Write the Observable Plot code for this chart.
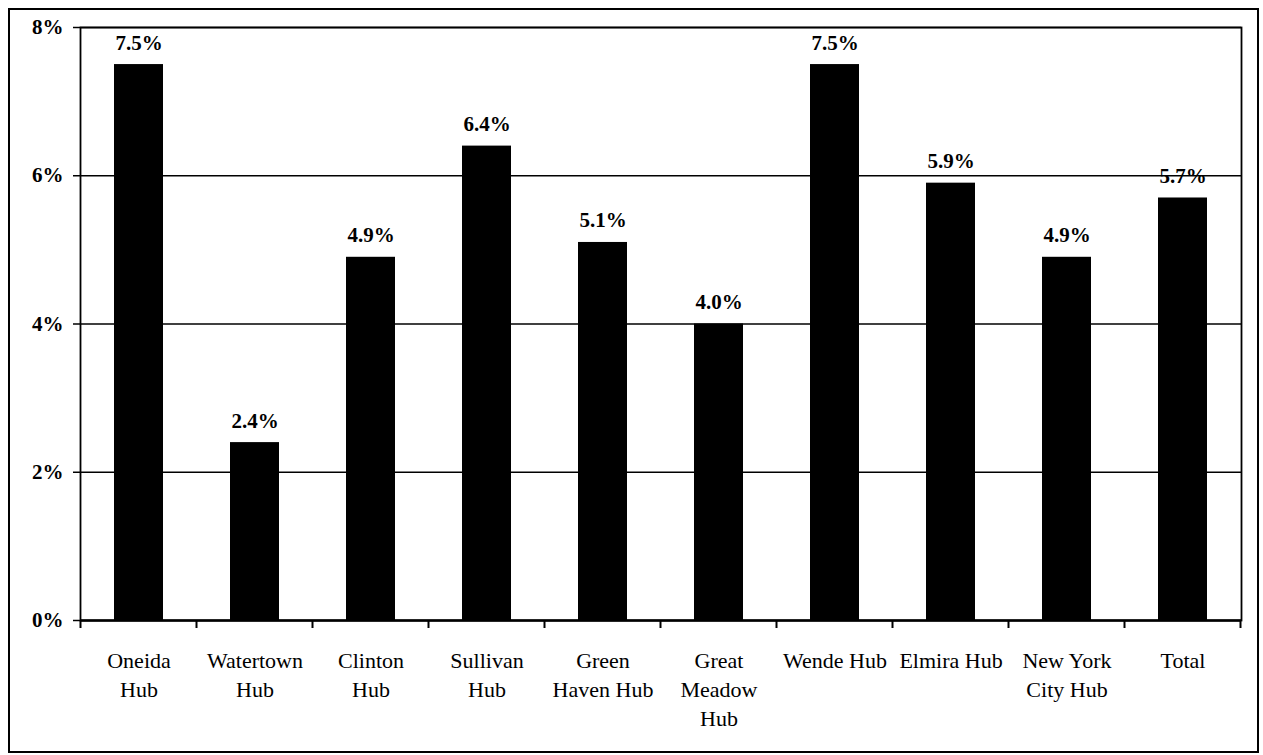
<!DOCTYPE html>
<html>
<head>
<meta charset="utf-8">
<script src="https://cdn.jsdelivr.net/npm/d3@7"></script>
<script src="https://cdn.jsdelivr.net/npm/@observablehq/plot@0.6"></script>
<style>
  html, body { margin: 0; padding: 0; background: #fff; }
  #wrap { position: relative; width: 1263px; height: 755px; }
  #border { position: absolute; left: 8px; top: 8px; width: 1247px; height: 741px; border: 2px solid #000; pointer-events: none; }
</style>
</head>
<body>
<div id="wrap"><div id="border"></div></div>
<script>
const categories = ["Oneida Hub", "Watertown Hub", "Clinton Hub", "Sullivan Hub", "Green Haven Hub", "Great Meadow Hub", "Wende Hub", "Elmira Hub", "New York City Hub", "Total"];
const categoryLabels = ["Oneida\nHub", "Watertown\nHub", "Clinton\nHub", "Sullivan\nHub", "Green\nHaven Hub", "Great\nMeadow\nHub", "Wende Hub", "Elmira Hub", "New York\nCity Hub", "Total"];
const values = [7.5, 2.4, 4.9, 6.4, 5.1, 4.0, 7.5, 5.9, 4.9, 5.7];
const yTicks = [0, 2, 4, 6, 8];

const data = categories.map((c, i) => ({category: c, value: values[i]}));
const labelOf = new Map(categories.map((c, i) => [c, categoryLabels[i]]));

// Excel-style tick marks on the category boundaries, placed through the x and y scales
function boundaryTicks(index, scales, values, dims) {
  const x = scales.x;
  const bw = typeof x.bandwidth === "function" ? x.bandwidth() : (x.bandwidth || 0);
  const centers = categories.map(c => x(c) + bw / 2);
  const half = (centers[1] - centers[0]) / 2;
  const xs = [centers[0] - half, ...centers.map(c => c + half)];
  const y0 = scales.y(0);
  const g = d3.create("svg:g");
  g.selectAll("line").data(xs).join("line")
    .attr("x1", d => d).attr("x2", d => d)
    .attr("y1", y0).attr("y2", y0 + 8)
    .attr("stroke", "#000").attr("stroke-width", 2);
  return g.node();
}

const chart = Plot.plot({
  width: 1263,
  height: 755,
  marginLeft: 80,
  marginRight: 22,
  marginTop: 27,
  marginBottom: 135,
  style: {fontFamily: "'Liberation Serif', 'Times New Roman', serif", color: "#000", background: "transparent"},
  x: {domain: categories, paddingInner: 0.575, paddingOuter: 0.2875, label: null},
  y: {domain: [0, 8], ticks: yTicks, label: null},
  marks: [
    Plot.ruleY(yTicks.filter(d => d > 0), {stroke: "#000", strokeWidth: 1.5}),
    Plot.barY(data, {x: "category", y: "value", fill: "#000"}),
    Plot.frame({stroke: "#000", strokeWidth: 1.8}),
    Plot.ruleY([0], {stroke: "#000", strokeWidth: 2.5}),
    Plot.text(data, {x: "category", y: "value", text: d => d.value.toFixed(1) + "%", dy: -15, lineAnchor: "bottom", fontSize: 21, fontWeight: "bold", fill: "#000"}),
    Plot.axisY({ticks: yTicks, tickFormat: d => d + "%", tickSize: 7, tickPadding: 10, fontSize: 21, fontWeight: "bold", stroke: "#000", strokeWidth: 1.5}),
    Plot.axisX({tickSize: 0, tickPadding: 27, tickFormat: d => labelOf.get(d), fontSize: 22, lineHeight: 1.32}),
    boundaryTicks
  ]
});
document.getElementById("wrap").appendChild(chart);
</script>
</body>
</html>
